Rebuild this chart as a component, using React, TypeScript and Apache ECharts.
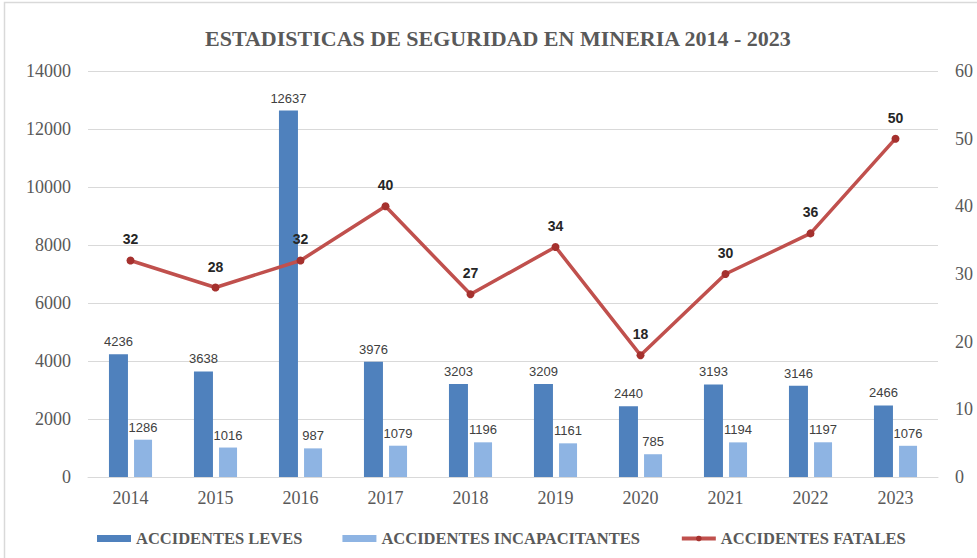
import React, { useEffect, useRef } from "react";
import * as echarts from "echarts";

const years = ["2014", "2015", "2016", "2017", "2018", "2019", "2020", "2021", "2022", "2023"];
const leves = [4236, 3638, 12637, 3976, 3203, 3209, 2440, 3193, 3146, 2466];
const incapacitantes = [1286, 1016, 987, 1079, 1196, 1161, 785, 1194, 1197, 1076];
const fatales = [32, 28, 32, 40, 27, 34, 18, 30, 36, 50];

const serif = "'Liberation Serif', 'Times New Roman', serif";
const sans = "'Liberation Sans', Arial, sans-serif";

export default function App() {
  const ref = useRef<HTMLDivElement>(null);
  useEffect(() => {
    if (!ref.current) return;
    const chart = echarts.init(ref.current, undefined, { renderer: "svg" });
    chart.setOption({
      animation: false,
      backgroundColor: "#ffffff",
      graphic: [
        {
          type: "rect",
          shape: { x: 4.5, y: 2.5, width: 1000, height: 600 },
          style: { fill: "none", stroke: "#d9d9d9", lineWidth: 1.5 },
          silent: true,
        },
      ],
      title: {
        text: "ESTADISTICAS DE SEGURIDAD EN MINERIA 2014 - 2023",
        left: 200,
        top: 22,
        textStyle: { fontFamily: serif, fontWeight: "bold", fontSize: 22, color: "#595959" },
      },
      legend: {
        bottom: 6,
        left: 92,
        itemWidth: 34,
        itemHeight: 7,
        itemGap: 40,
        textStyle: { fontFamily: serif, fontSize: 16.5, fontWeight: "bold", color: "#595959" },
        data: [
          { name: "ACCIDENTES LEVES", icon: "rect" },
          { name: "ACCIDENTES INCAPACITANTES", icon: "rect" },
          { name: "ACCIDENTES FATALES", lineStyle: { width: 4, color: "#c0504d" } },
        ],
      },
      grid: { left: 88, right: 39, top: 71, bottom: 81 },
      xAxis: {
        type: "category",
        data: years,
        axisLine: { lineStyle: { color: "#d9d9d9", width: 1 } },
        axisTick: { show: false },
        axisLabel: { fontFamily: serif, fontSize: 18, color: "#595959", margin: 12 },
      },
      yAxis: [
        {
          type: "value",
          min: 0,
          max: 14000,
          interval: 2000,
          axisLine: { show: false },
          axisTick: { show: false },
          splitLine: { lineStyle: { color: "#d9d9d9" } },
          axisLabel: {
            fontFamily: serif,
            fontSize: 18,
            color: "#595959",
            margin: 17,
            formatter: (v: number) => String(v),
          },
        },
        {
          type: "value",
          min: 0,
          max: 60,
          interval: 10,
          axisLine: { show: false },
          axisTick: { show: false },
          splitLine: { show: false },
          axisLabel: {
            fontFamily: serif,
            fontSize: 18,
            color: "#595959",
            margin: 17,
            formatter: (v: number) => String(v),
          },
        },
      ],
      series: [
        {
          name: "ACCIDENTES LEVES",
          type: "bar",
          data: leves,
          barWidth: 19,
          barGap: "32%",
          itemStyle: { color: "#4f81bd" },
          label: { show: true, position: "top", distance: 6, fontFamily: sans, fontSize: 13, color: "#404040" },
        },
        {
          name: "ACCIDENTES INCAPACITANTES",
          type: "bar",
          data: incapacitantes,
          barWidth: 18,
          itemStyle: { color: "#8eb4e3" },
          label: { show: true, position: "top", distance: 6, fontFamily: sans, fontSize: 13, color: "#404040" },
        },
        {
          name: "ACCIDENTES FATALES",
          type: "line",
          yAxisIndex: 1,
          data: fatales,
          symbol: "circle",
          symbolSize: 8,
          lineStyle: { color: "#c0504d", width: 3.5 },
          itemStyle: { color: "#a5312e" },
          z: 5,
          label: {
            show: true,
            position: "top",
            distance: 10,
            fontFamily: sans,
            fontSize: 14,
            fontWeight: "bold",
            color: "#262626",
          },
        },
      ],
    });
    return () => chart.dispose();
  }, []);
  return (
    <div
      ref={ref}
      style={{ position: "fixed", left: 0, top: 0, width: 977, height: 558 }}
    />
  );
}
